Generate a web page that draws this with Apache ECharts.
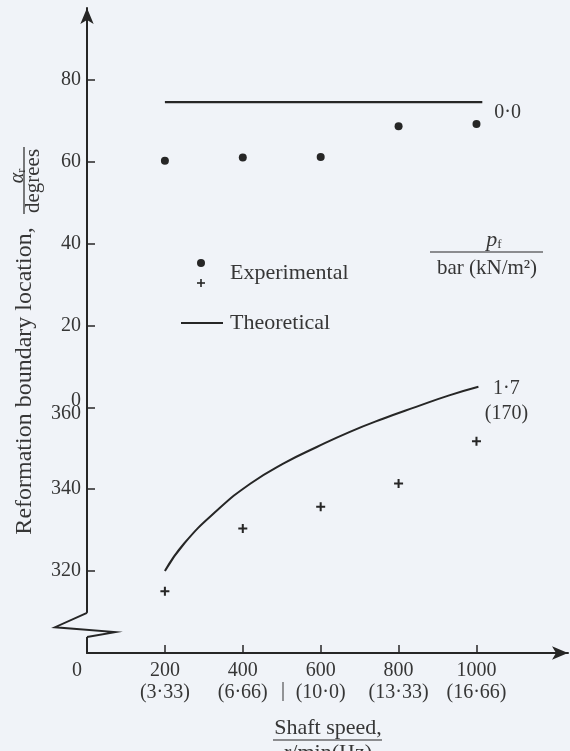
<!DOCTYPE html>
<html>
<head>
<meta charset="utf-8">
<script src="https://cdn.jsdelivr.net/npm/echarts@6.0.0/dist/echarts.min.js"></script>
<style>
html, body { margin: 0; padding: 0; background: #f0f3f8; }
#chart { width: 570px; height: 751px; }
</style>
</head>
<body>
<div id="chart"></div>
<script>
// shaft speed, r/min and the same in Hz
var speeds = [200, 400, 600, 800, 1000];
var speedHz = ['3·33', '6·66', '10·0', '13·33', '16·66'];

// p_f = 0·0 bar : reformation angle, degrees
var expZero = [60.2, 61.0, 61.1, 68.6, 69.2];
var theoZeroX = [200, 1015];
var theoZeroY = [74.5, 74.5];

// p_f = 1·7 bar (170 kN/m2) : read on the lower (broken) scale, degrees
var expHigh = [315.1, 330.4, 335.7, 341.4, 351.7];
var theoHighX = [200, 250, 335, 420, 505, 590, 675, 760, 845, 930, 1005];
var theoHighY = [320, 326.8, 334.9, 341.4, 346.3, 350.3, 354, 357.2, 360.1, 362.9, 365];

// y ticks; the lower scale sits one revolution down (360 -> 0)
var yTicks = [80, 60, 40, 20, 0, -20, -40];
var turn = 360;

// broken-axis zigzag near the origin (axis units)
var breakPath = [[0, -50.2], [-82, -53.7], [72, -54.9], [0, -56.1]];

var ink = '#262626';
var txt = '#363636';
var bg = '#f0f3f8';
var serif = 'Liberation Serif';

function pairs(xs, ys) {
  return xs.map(function (x, i) { return [x, ys[i]]; });
}

var plus = 'path://M3.1,0H4.9V3.1H8V4.9H4.9V8H3.1V4.9H0V3.1H3.1Z';

var myChart = echarts.init(document.getElementById('chart'));

var option = {
  backgroundColor: bg,
  animation: false,
  grid: { left: 87, right: 2, top: 8, bottom: 98, outerBoundsMode: 'none' },
  xAxis: {
    type: 'value',
    min: 0,
    max: 1235,
    splitLine: { show: false },
    axisLine: {
      onZero: false,
      symbol: ['none', 'arrow'],
      symbolSize: [10, 16],
      lineStyle: { color: ink, width: 2 }
    },
    axisTick: { inside: true, length: 8, customValues: speeds, lineStyle: { color: ink, width: 1.5 } },
    axisLabel: {
      customValues: [0].concat(speeds),
      margin: 7,
      color: txt,
      fontFamily: serif,
      fontSize: 20,
      lineHeight: 22,
      formatter: function (v) {
        if (v === 0) return '{z|0}';
        var i = speeds.indexOf(v);
        return v + '\n(' + speedHz[i] + ')';
      },
      rich: { z: { fontFamily: serif, fontSize: 20, color: txt, padding: [0, 20, 0, 0] } }
    }
  },
  yAxis: {
    type: 'value',
    min: -60,
    max: 97.5,
    splitLine: { show: false },
    axisLine: {
      onZero: false,
      symbol: ['none', 'arrow'],
      symbolSize: [10, 16],
      lineStyle: { color: ink, width: 2 }
    },
    axisTick: { inside: true, length: 8, customValues: yTicks, lineStyle: { color: ink, width: 1.5 } },
    axisLabel: {
      customValues: yTicks,
      margin: 6,
      color: txt,
      fontFamily: serif,
      fontSize: 20,
      formatter: function (v) {
        if (v === 0) return '{t|0}\n{t|' + turn + '}';
        return v > 0 ? String(v) : String(v + turn);
      },
      rich: { t: { fontFamily: serif, fontSize: 20, color: txt, lineHeight: 13, align: 'right' } }
    }
  },
  series: [
    {
      // axis break: blank the axis line and draw the zigzag
      type: 'custom',
      clip: false,
      silent: true,
      data: [[0, 0]],
      renderItem: function (params, api) {
        var pts = breakPath.map(function (p) { return api.coord(p); });
        return {
          type: 'group',
          children: [
            {
              type: 'line',
              shape: { x1: pts[0][0], y1: pts[0][1], x2: pts[3][0], y2: pts[3][1] },
              style: { stroke: bg, lineWidth: 6 }
            },
            {
              type: 'polyline',
              shape: { points: pts },
              style: { stroke: ink, lineWidth: 2, fill: null }
            }
          ]
        };
      }
    },
    {
      name: 'Experimental 0·0',
      type: 'scatter',
      data: pairs(speeds, expZero),
      symbol: 'circle',
      symbolSize: 8,
      itemStyle: { color: ink, opacity: 1 }
    },
    {
      name: 'Theoretical 0·0',
      type: 'line',
      data: pairs(theoZeroX, theoZeroY),
      symbol: 'none',
      lineStyle: { color: ink, width: 2.2 },
      endLabel: {
        show: true,
        formatter: '0·0',
        distance: 12,
        offset: [0, 11],
        color: txt,
        fontFamily: serif,
        fontSize: 20
      }
    },
    {
      name: 'Experimental 1·7',
      type: 'scatter',
      data: pairs(speeds, expHigh.map(function (d) { return d - turn; })),
      symbol: plus,
      symbolSize: 9,
      itemStyle: { color: ink, opacity: 1 }
    },
    {
      name: 'Theoretical 1·7',
      type: 'line',
      data: pairs(theoHighX, theoHighY.map(function (d) { return d - turn; })),
      symbol: 'none',
      smooth: true,
      lineStyle: { color: ink, width: 2 },
      endLabel: {
        show: true,
        formatter: '1·7\n(170)',
        align: 'center',
        distance: 28,
        offset: [0, 14],
        lineHeight: 25,
        color: txt,
        fontFamily: serif,
        fontSize: 20
      }
    }
  ],
  graphic: [
    // y axis title
    {
      type: 'text', x: 25, y: 381, rotation: Math.PI / 2,
      style: { text: 'Reformation boundary location,', fill: txt, font: '24px "Liberation Serif"', align: 'center', verticalAlign: 'middle' }
    },
    {
      type: 'text', x: 18, y: 176, rotation: Math.PI / 2,
      style: {
        text: '{a|α}{s|r}', align: 'center', verticalAlign: 'middle',
        rich: {
          a: { fill: txt, fontFamily: serif, fontStyle: 'italic', fontSize: 20, lineHeight: 20 },
          s: { fill: txt, fontFamily: serif, fontSize: 12, lineHeight: 20, verticalAlign: 'bottom' }
        }
      }
    },
    { type: 'line', shape: { x1: 24, y1: 147, x2: 24, y2: 214 }, style: { stroke: ink, lineWidth: 1.2 } },
    {
      type: 'text', x: 33, y: 181, rotation: Math.PI / 2,
      style: { text: 'degrees', fill: txt, font: '21px "Liberation Serif"', align: 'center', verticalAlign: 'middle' }
    },
    // p_f key
    {
      type: 'text', x: 494, y: 240,
      style: {
        text: '{a|p}{s|f}', align: 'center', verticalAlign: 'middle',
        rich: {
          a: { fill: txt, fontFamily: serif, fontStyle: 'italic', fontSize: 22, lineHeight: 22 },
          s: { fill: txt, fontFamily: serif, fontSize: 13, lineHeight: 22, verticalAlign: 'bottom' }
        }
      }
    },
    { type: 'line', shape: { x1: 430, y1: 252, x2: 543, y2: 252 }, style: { stroke: ink, lineWidth: 1.2 } },
    {
      type: 'text', x: 487, y: 268,
      style: { text: 'bar (kN/m²)', fill: txt, font: '21px "Liberation Serif"', align: 'center', verticalAlign: 'middle' }
    },
    // legend
    { type: 'circle', shape: { cx: 201, cy: 263, r: 4 }, style: { fill: ink } },
    { type: 'line', shape: { x1: 197, y1: 283, x2: 205, y2: 283 }, style: { stroke: ink, lineWidth: 1.6 } },
    { type: 'line', shape: { x1: 201, y1: 279, x2: 201, y2: 287 }, style: { stroke: ink, lineWidth: 1.6 } },
    {
      type: 'text', x: 230, y: 273,
      style: { text: 'Experimental', fill: txt, font: '22px "Liberation Serif"', align: 'left', verticalAlign: 'middle' }
    },
    { type: 'line', shape: { x1: 181, y1: 323, x2: 223, y2: 323 }, style: { stroke: ink, lineWidth: 2 } },
    {
      type: 'text', x: 230, y: 323,
      style: { text: 'Theoretical', fill: txt, font: '22px "Liberation Serif"', align: 'left', verticalAlign: 'middle' }
    },
    // stray rule between the 400 and 600 labels, as printed
    {
      type: 'text', x: 283, y: 691,
      style: { text: '|', fill: txt, font: '20px "Liberation Serif"', align: 'center', verticalAlign: 'middle' }
    },
    // x axis title
    {
      type: 'text', x: 328, y: 728,
      style: { text: 'Shaft speed,', fill: txt, font: '22px "Liberation Serif"', align: 'center', verticalAlign: 'middle' }
    },
    { type: 'line', shape: { x1: 273, y1: 740, x2: 382, y2: 740 }, style: { stroke: ink, lineWidth: 1.2 } },
    {
      type: 'text', x: 328, y: 742,
      style: { text: 'r/min(Hz)', fill: txt, font: '22px "Liberation Serif"', align: 'center', verticalAlign: 'top' }
    }
  ]
};

myChart.setOption(option);
</script>
</body>
</html>
